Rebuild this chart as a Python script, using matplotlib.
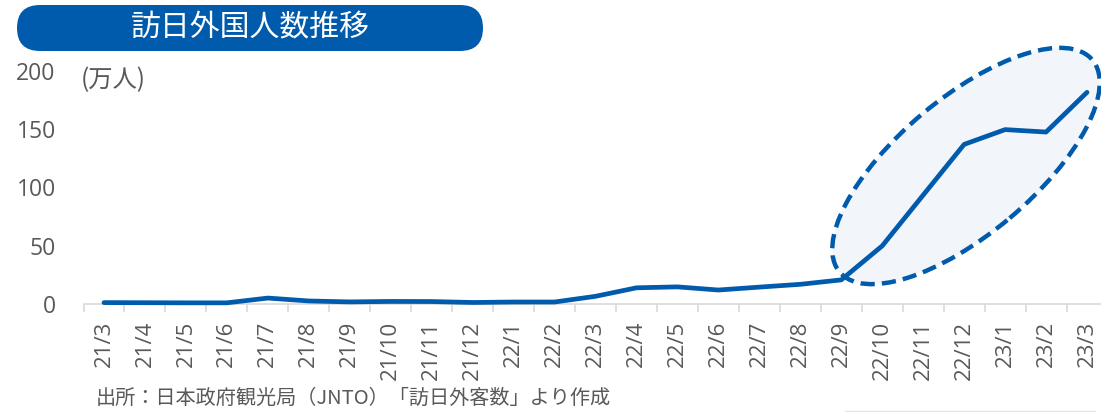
import matplotlib
matplotlib.use("Agg")
import matplotlib.pyplot as plt
from matplotlib.patches import Ellipse, FancyBboxPatch
from matplotlib.lines import Line2D

plt.rcParams['font.family'] = ['Noto Sans CJK JP', 'DejaVu Sans']
LATIN = ['Open Sans', 'Noto Sans CJK JP']

# 訪日外客数（万人）
months = ["21/3", "21/4", "21/5", "21/6", "21/7", "21/8", "21/9", "21/10",
          "21/11", "21/12", "22/1", "22/2", "22/3", "22/4", "22/5", "22/6",
          "22/7", "22/8", "22/9", "22/10", "22/11", "22/12", "23/1", "23/2",
          "23/3"]
visitors = [1.2, 1.1, 1.0, 1.0, 5.1, 2.6, 1.8, 2.2, 2.1, 1.3, 1.7, 1.7,
            6.6, 13.9, 14.7, 12.0, 14.5, 16.9, 20.7, 49.9, 93.5, 137.0,
            149.7, 147.6, 181.7]
yticks = [0, 50, 100, 150, 200]

title = "訪日外国人数推移"
unit_label = "(万人)"
source = "出所：日本政府観光局（JNTO）「訪日外客数」より作成"

BLUE = "#005BAC"
GRAY = "#595959"
W, H = 1101, 412

fig = plt.figure(figsize=(W / 100, H / 100), dpi=100)
fig.patch.set_facecolor("white")


def px_box(left, top, right, bottom):
    return [left / W, (H - bottom) / H, (right - left) / W, (bottom - top) / H]


ax = fig.add_axes(px_box(83.5, 71, 1107.5, 304))
x = list(range(len(months)))

# highlighted recovery period
ell = Ellipse((966 / 100, (H - 166) / 100), width=3.30, height=1.36, angle=40,
              transform=fig.dpi_scale_trans, facecolor="#F2F6FB",
              edgecolor=BLUE, linewidth=3.2, linestyle=(0, (3.2, 1.6)),
              zorder=1, clip_on=False)
ax.add_patch(ell)

ax.plot(x, visitors, color=BLUE, linewidth=3.4, solid_joinstyle="round",
        solid_capstyle="round", clip_on=False, zorder=5)

ax.set_xlim(-0.5, len(months) - 0.5)
ax.set_ylim(0, 200)
ax.set_facecolor("none")

ax.set_yticks(yticks)
ax.set_yticklabels([str(v) for v in yticks], fontsize=16.5, color=GRAY,
                   family=LATIN)
ax.tick_params(axis="y", length=0, pad=20)

ax.set_xticks(x)
ax.set_xticklabels(months, rotation=90, fontsize=16, color=GRAY,
                   va="top", ha="center", family=LATIN)
ax.set_xticks([i - 0.5 for i in range(len(months) + 1)], minor=True)
ax.tick_params(axis="x", which="major", length=0, pad=12)
ax.tick_params(axis="x", which="minor", length=6, width=1.2, color="#D9D9D9")

for side in ("left", "right", "top"):
    ax.spines[side].set_visible(False)
ax.spines["bottom"].set_color("#D9D9D9")
ax.spines["bottom"].set_linewidth(1.2)

# title pill
pill = FancyBboxPatch((0.17, (H - 51) / 100), 4.66, 0.46,
                      boxstyle="round,pad=0,rounding_size=0.23",
                      transform=fig.dpi_scale_trans, facecolor=BLUE,
                      edgecolor="none")
fig.add_artist(pill)
fig.text(250 / W, (H - 28) / H, title, color="white", fontsize=21.5,
         ha="center", va="center")

fig.text(81 / W, (H - 80) / H, unit_label, color=GRAY, fontsize=17.5,
         ha="left", va="center")
fig.text(96 / W, (H - 398) / H, source, color=GRAY, fontsize=14.5,
         ha="left", va="center")

fig.add_artist(Line2D([845 / W, 1095 / W], [(H - 411) / H] * 2,
                      color="#E6E6E6", linewidth=1))

fig.savefig("out.png", dpi=100)
